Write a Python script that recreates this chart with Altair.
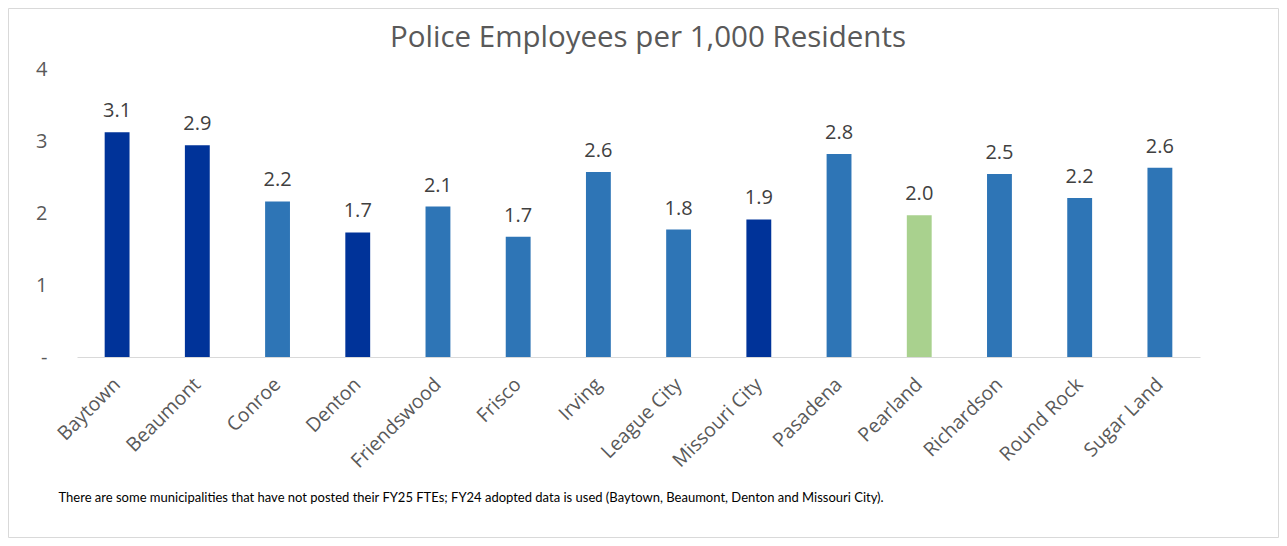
import altair as alt
import pandas as pd

cities = ["Baytown", "Beaumont", "Conroe", "Denton", "Friendswood", "Frisco", "Irving",
          "League City", "Missouri City", "Pasadena", "Pearland", "Richardson", "Round Rock", "Sugar Land"]
values = [3.12, 2.94, 2.16, 1.73, 2.09, 1.67, 2.57, 1.77, 1.91, 2.82, 1.97, 2.54, 2.21, 2.63]
groups = ["FY24", "FY24", "FY25", "FY24", "FY25", "FY25", "FY25",
          "FY25", "FY24", "FY25", "Pearland", "FY25", "FY25", "FY25"]
group_names = ["FY24", "FY25", "Pearland"]
group_colors = ["#003399", "#2E75B6", "#A9D18E"]
y_ticks = [0, 1, 2, 3, 4]
title_text = "Police Employees per 1,000 Residents"
footnote = ("There are some municipalities that have not posted their FY25 FTEs; "
            "FY24 adopted data is used (Baytown, Beaumont, Denton and Missouri City).")

df = pd.DataFrame({"city": cities, "value": values, "group": groups})

FONT = "Open Sans"

base = alt.Chart(df).encode(
    x=alt.X("city:N", sort=cities, scale=alt.Scale(paddingInner=0.69, paddingOuter=0.345),
            axis=alt.Axis(title=footnote, labelAngle=-45, labelAlign="right", labelBaseline="middle",
                          labelFontSize=19.5, labelColor="#595959", labelFont=FONT, labelPadding=24,
                          ticks=False, domainColor="#d9d9d9", domainWidth=1.2,
                          titleFont="Lato", titleFontSize=13, titleFontWeight="normal",
                          titleColor="#000000", titleAlign="left", titleBaseline="middle",
                          titleAnchor="start", titleX=-19, titleY=140)),
    y=alt.Y("value:Q", scale=alt.Scale(domain=[0, 4], nice=False),
            axis=alt.Axis(title=None, values=y_ticks, grid=False, domain=False, ticks=False,
                          labelExpr="datum.value == 0 ? '-' : datum.label",
                          labelFontSize=20, labelColor="#595959", labelFont=FONT,
                          labelPadding=30, labelAlign="right")),
)

bars = base.mark_bar().encode(
    color=alt.Color("group:N", scale=alt.Scale(domain=group_names, range=group_colors), legend=None)
)

labels = base.mark_text(dy=-11, baseline="bottom", fontSize=20, color="#404040", font=FONT).encode(
    text=alt.Text("value:Q", format=".1f")
)

one = alt.Data(values=[{"t": title_text}])

FX0, FX1, FY0, FY1 = -68.5, 1201.5, -60.5, 468.5


def hedge(y):
    return alt.Chart(one).mark_rule(color="#d9d9d9", strokeWidth=1).encode(
        x=alt.value(FX0), x2=alt.value(FX1), y=alt.value(y))


def vedge(x):
    return alt.Chart(one).mark_rule(color="#d9d9d9", strokeWidth=1).encode(
        x=alt.value(x), y=alt.value(FY0), y2=alt.value(FY1))


frame = [hedge(FY0), hedge(FY1), vedge(FX0), vedge(FX1)]

title = alt.Chart(one).mark_text(
    fontSize=29.5, color="#595959", font=FONT, align="center", baseline="middle"
).encode(x=alt.value(571), y=alt.value(-31), text="t:N")

chart = alt.layer(*frame, bars, labels, title).properties(
    width=1123, height=288,
    autosize=alt.AutoSizeParams(type="none"),
    padding={"left": 69, "top": 61, "right": 79, "bottom": 181},
).configure_view(stroke=None)

chart.save("out.html", embed_options={"renderer": "svg", "actions": False})
